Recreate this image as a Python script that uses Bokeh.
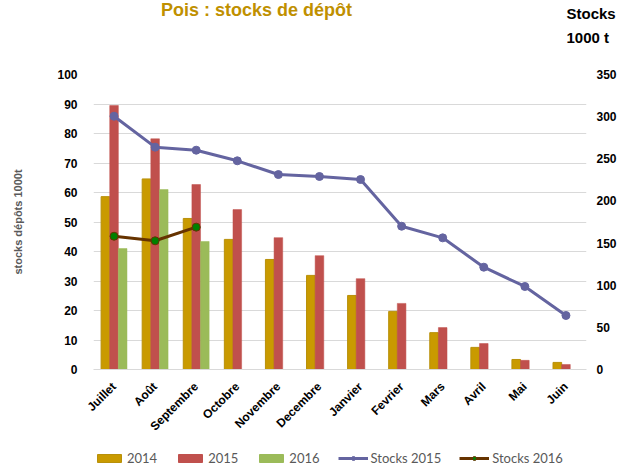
import math
from bokeh.plotting import figure
from bokeh.layouts import column
from bokeh.models import (FactorRange, Range1d, LinearAxis, FixedTicker, Legend,
                          LegendItem, Label, ColumnDataSource)
from bokeh.transform import dodge
from bokeh.embed import file_html
from bokeh.resources import INLINE

months = ["Juillet", "Août", "Septembre", "Octobre", "Novembre", "Decembre",
          "Janvier", "Fevrier", "Mars", "Avril", "Mai", "Juin"]
v2014 = [58.6, 64.6, 51.2, 44.1, 37.3, 31.9, 25.1, 19.7, 12.5, 7.5, 3.4, 2.4]
v2015 = [89.5, 78.2, 62.7, 54.2, 44.7, 38.6, 30.8, 22.4, 14.2, 8.8, 3.1, 1.7]
months2016 = ["Juillet", "Août", "Septembre"]
v2016 = [41.0, 61.0, 43.4]
stocks2015 = [300.5, 263.8, 260.2, 247.6, 231.3, 229.0, 225.4, 170.0, 156.2, 121.4, 98.5, 64.1]
stocks2016 = [158.1, 152.7, 168.9]
left_ticks = [0, 10, 20, 30, 40, 50, 60, 70, 80, 90, 100]
right_ticks = [0, 50, 100, 150, 200, 250, 300, 350]
series_labels = ["2014", "2015", "2016", "Stocks 2015", "Stocks 2016"]

GOLD = "#C99A00"
RED = "#C0504D"
GREEN = "#9BBB59"
BLUE = "#6464A0"
BROWN = "#663300"
DOT16 = "#008000"
FONT = "Liberation Sans"
W = 619

# ---------- header with the titles ----------
head = figure(width=W, height=60, output_backend="svg", toolbar_location=None,
              x_range=Range1d(0, W), y_range=Range1d(60, 0),
              x_axis_location=None, y_axis_location=None,
              min_border=0, min_border_left=0, min_border_right=0,
              min_border_top=0, min_border_bottom=0)
head.frame_align = False
head.grid.visible = False
head.outline_line_color = None
head.add_layout(Label(x=256, y=9, text="Pois : stocks de dépôt", text_align="center",
                      text_baseline="middle", text_font=FONT, text_font_style="bold",
                      text_font_size="18px", text_color="#BF9000"))
head.add_layout(Label(x=566, y=13, text="Stocks", text_align="left",
                      text_baseline="middle", text_font=FONT, text_font_style="bold",
                      text_font_size="15px", text_color="black"))
head.add_layout(Label(x=566, y=37, text="1000 t", text_align="left",
                      text_baseline="middle", text_font=FONT, text_font_style="bold",
                      text_font_size="15px", text_color="black"))

# ---------- main chart ----------
p = figure(width=W, height=382, output_backend="svg", toolbar_location=None,
           x_range=FactorRange(factors=months, range_padding=0),
           y_range=Range1d(0, 100),
           min_border_left=93, min_border_right=26, min_border_top=14, min_border_bottom=73)
p.frame_align = False
p.extra_y_ranges = {"right": Range1d(0, 350)}
p.outline_line_color = None

p.xgrid.grid_line_color = None
p.ygrid.grid_line_color = "#D9D9D9"
p.ygrid.ticker = FixedTicker(ticks=left_ticks)

p.yaxis.ticker = FixedTicker(ticks=left_ticks)
p.yaxis.axis_line_color = None
p.yaxis.major_tick_line_color = None
p.yaxis.minor_tick_line_color = None
p.yaxis.major_label_text_font = FONT
p.yaxis.major_label_text_font_style = "bold"
p.yaxis.major_label_text_font_size = "12px"
p.yaxis.major_label_text_color = "black"
p.yaxis.major_label_standoff = 10
p.yaxis.axis_label = "stocks dépôts 1000t"
p.yaxis.axis_label_text_font = FONT
p.yaxis.axis_label_text_font_style = "bold"
p.yaxis.axis_label_text_font_size = "11px"
p.yaxis.axis_label_text_color = "#595959"
p.yaxis.axis_label_standoff = 30

p.xaxis.axis_line_color = "#D9D9D9"
p.xaxis.major_tick_line_color = None
p.xaxis.minor_tick_line_color = None
p.xaxis.major_label_orientation = math.pi / 4
p.xaxis.major_label_text_font = FONT
p.xaxis.major_label_text_font_style = "bold"
p.xaxis.major_label_text_font_size = "12px"
p.xaxis.major_label_text_color = "black"
p.xaxis.major_label_standoff = 9

raxis = LinearAxis(y_range_name="right", ticker=FixedTicker(ticks=right_ticks))
raxis.axis_line_color = None
raxis.major_tick_line_color = None
raxis.minor_tick_line_color = None
raxis.major_label_text_font = FONT
raxis.major_label_text_font_style = "bold"
raxis.major_label_text_font_size = "12px"
raxis.major_label_text_color = "black"
raxis.major_label_standoff = 4
p.add_layout(raxis, "right")

src = ColumnDataSource(dict(month=months, v2014=v2014, v2015=v2015, s2015=stocks2015))
src16 = ColumnDataSource(dict(month=months2016, v2016=v2016, s2016=stocks2016))

bw = 0.21
p.vbar(x=dodge("month", -0.21, range=p.x_range), top="v2014", width=bw, source=src,
       fill_color=GOLD, line_color="#B8900A", line_width=1)
p.vbar(x=dodge("month", 0.0, range=p.x_range), top="v2015", width=bw, source=src,
       fill_color=RED, line_color=RED, line_width=0.5)
p.vbar(x=dodge("month", 0.21, range=p.x_range), top="v2016", width=bw, source=src16,
       fill_color=GREEN, line_color=GREEN, line_width=0.5)
p.line(x="month", y="s2015", source=src, y_range_name="right", line_color=BLUE, line_width=3)
p.scatter(x="month", y="s2015", source=src, y_range_name="right",
          size=8, fill_color=BLUE, line_color=BLUE)
p.line(x="month", y="s2016", source=src16, y_range_name="right", line_color=BROWN, line_width=3)
p.scatter(x="month", y="s2016", source=src16, y_range_name="right",
          size=8, fill_color=DOT16, line_color=BROWN, line_width=1)

# ---------- legend strip (swatch renderers sit outside the visible range) ----------
leg = figure(width=W, height=24, output_backend="svg", toolbar_location=None,
             x_range=Range1d(0, 1), y_range=Range1d(0, 1),
             x_axis_location=None, y_axis_location=None,
             min_border=0, min_border_left=0, min_border_right=0,
             min_border_top=0, min_border_bottom=0)
leg.frame_align = False
leg.grid.visible = False
leg.outline_line_color = None
swatch = ColumnDataSource(dict(x=[5.0], y=[5.0], b=[4.0]))
g14 = leg.vbar(x="x", top="y", bottom="b", width=0.1, source=swatch, fill_color=GOLD, line_color="#B8900A")
g15 = leg.vbar(x="x", top="y", bottom="b", width=0.1, source=swatch, fill_color=RED, line_color=RED)
g16 = leg.vbar(x="x", top="y", bottom="b", width=0.1, source=swatch, fill_color=GREEN, line_color=GREEN)
gl15 = leg.line(x="x", y="y", source=swatch, line_color=BLUE, line_width=3)
gc15 = leg.scatter(x="x", y="y", source=swatch, size=9, fill_color=BLUE, line_color=BLUE)
gl16 = leg.line(x="x", y="y", source=swatch, line_color=BROWN, line_width=3)
gc16 = leg.scatter(x="x", y="y", source=swatch, size=9, fill_color=DOT16, line_color=BROWN)

legend = Legend(items=[
    LegendItem(label=series_labels[0], renderers=[g14]),
    LegendItem(label=series_labels[1], renderers=[g15]),
    LegendItem(label=series_labels[2], renderers=[g16]),
    LegendItem(label=series_labels[3], renderers=[gl15, gc15]),
    LegendItem(label=series_labels[4], renderers=[gl16, gc16]),
], orientation="horizontal", location=(94, 0))
legend.label_text_font = "Lato"
legend.label_text_font_size = "13px"
legend.label_text_color = "#595959"
legend.glyph_width = 30
legend.glyph_height = 10
legend.spacing = 18
legend.padding = 2
legend.margin = 0
legend.border_line_color = None
legend.background_fill_alpha = 0
legend.label_standoff = 3
leg.add_layout(legend, "center")

layout = column(head, p, leg, spacing=0)
open("out.html", "w").write(file_html(layout, INLINE))
